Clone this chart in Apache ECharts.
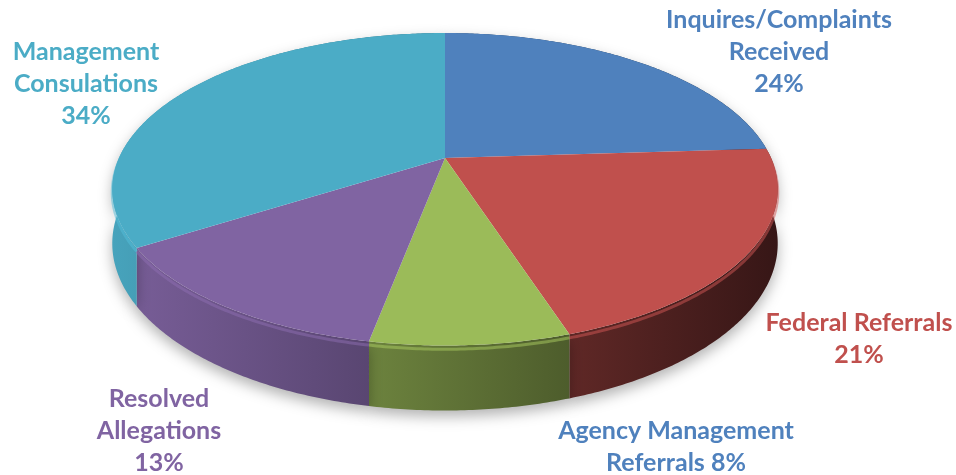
<!DOCTYPE html>
<html>
<head>
<meta charset="utf-8">
<script src="https://cdn.jsdelivr.net/npm/echarts@6/dist/echarts.min.js"></script>
<style>
html, body { margin: 0; padding: 0; background: #fff; }
#chart { width: 956px; height: 475px; }
</style>
</head>
<body>
<div id="chart"></div>
<script>
// slices, clockwise from 12 o'clock
var categories = ['Inquires/Complaints\nReceived', 'Federal Referrals', 'Agency Management\nReferrals', 'Resolved\nAllegations', 'Management\nConsulations'];
var shares = [24, 21, 8, 13, 34];
var sliceColors = ['#4F81BD', '#C0504D', '#9BBB59', '#8064A2', '#4BACC6'];
var labelColors = ['#4F81BD', '#C0504D', '#4F81BD', '#8064A2', '#4BACC6'];
var labelJoin = ['\n', '\n', ' ', '\n', '\n'];

// label block centres (px), Excel placed them by hand
var labelAt = [[779, 52], [859, 339], [676, 447], [159, 431], [86, 84]];

// fake 3d: disc seen in perspective
var CX = 445, CY = 158, S = 326, ST = 150, P = 0.2, DEPTH = 52;

var total = shares.reduce(function (a, b) { return a + b; }, 0);
var starts = [];
var acc = 0;
shares.forEach(function (v) { starts.push(acc); acc += v; });

function proj(t, d) {
  var x = Math.sin(t), z = -Math.cos(t), w = 1 - P * z;
  return [CX + S * x / w, CY + (ST * z + d) / w];
}

function shade(hex, f) {
  var n = parseInt(hex.slice(1), 16);
  var r = Math.min(255, Math.round(((n >> 16) & 255) * f));
  var g = Math.min(255, Math.round(((n >> 8) & 255) * f));
  var b = Math.min(255, Math.round((n & 255) * f));
  return 'rgb(' + r + ',' + g + ',' + b + ')';
}

function renderItem(params, api) {
  var i = params.dataIndex;
  var c = sliceColors[i];
  var a0 = starts[i] / total * Math.PI * 2;
  var a1 = (starts[i] + api.value(0)) / total * Math.PI * 2;
  var n = Math.max(2, Math.ceil((a1 - a0) / 0.01));
  var top = [], bot = [], rim = [];
  for (var k = 0; k <= n; k++) {
    var t = a0 + (a1 - a0) * k / n;
    top.push(proj(t, 0));
    bot.push(proj(t, DEPTH));
    rim.push(proj(t, 3));
  }
  var face = [[CX, CY]].concat(top);
  var wall = top.concat(bot.slice().reverse());
  return {
    type: 'group',
    children: [
      {
        type: 'polygon',
        z2: 1,
        shape: { points: wall },
        style: {
          fill: new echarts.graphic.LinearGradient(112, 0, 780, 0, [
            { offset: 0, color: shade(c, 0.95) },
            { offset: 0.35, color: shade(c, 0.72) },
            { offset: 0.65, color: shade(c, 0.52) },
            { offset: 1, color: shade(c, 0.28) }
          ], true),
          shadowBlur: 14,
          shadowOffsetY: 6,
          shadowColor: 'rgba(0,0,0,0.3)'
        }
      },
      {
        type: 'polyline',
        z2: 5,
        shape: { points: rim },
        style: { stroke: shade(c, 1.1), lineWidth: 3, opacity: 0.5, fill: null }
      },
      {
        type: 'polygon',
        z2: 10,
        shape: { points: face },
        style: { fill: c }
      },
      {
        type: 'text',
        z2: 20,
        x: labelAt[i][0],
        y: labelAt[i][1],
        style: {
          text: categories[i] + labelJoin[i] + api.value(0) + '%',
          fill: labelColors[i],
          font: 'bold 25px Lato',
          align: 'center',
          verticalAlign: 'middle',
          lineHeight: 32
        }
      }
    ]
  };
}

var chart = echarts.init(document.getElementById('chart'));
chart.setOption({
  animation: false,
  series: [{
    type: 'custom',
    coordinateSystem: 'none',
    renderItem: renderItem,
    data: shares.map(function (v, i) { return { value: v, name: categories[i] }; })
  }]
});
</script>
</body>
</html>
